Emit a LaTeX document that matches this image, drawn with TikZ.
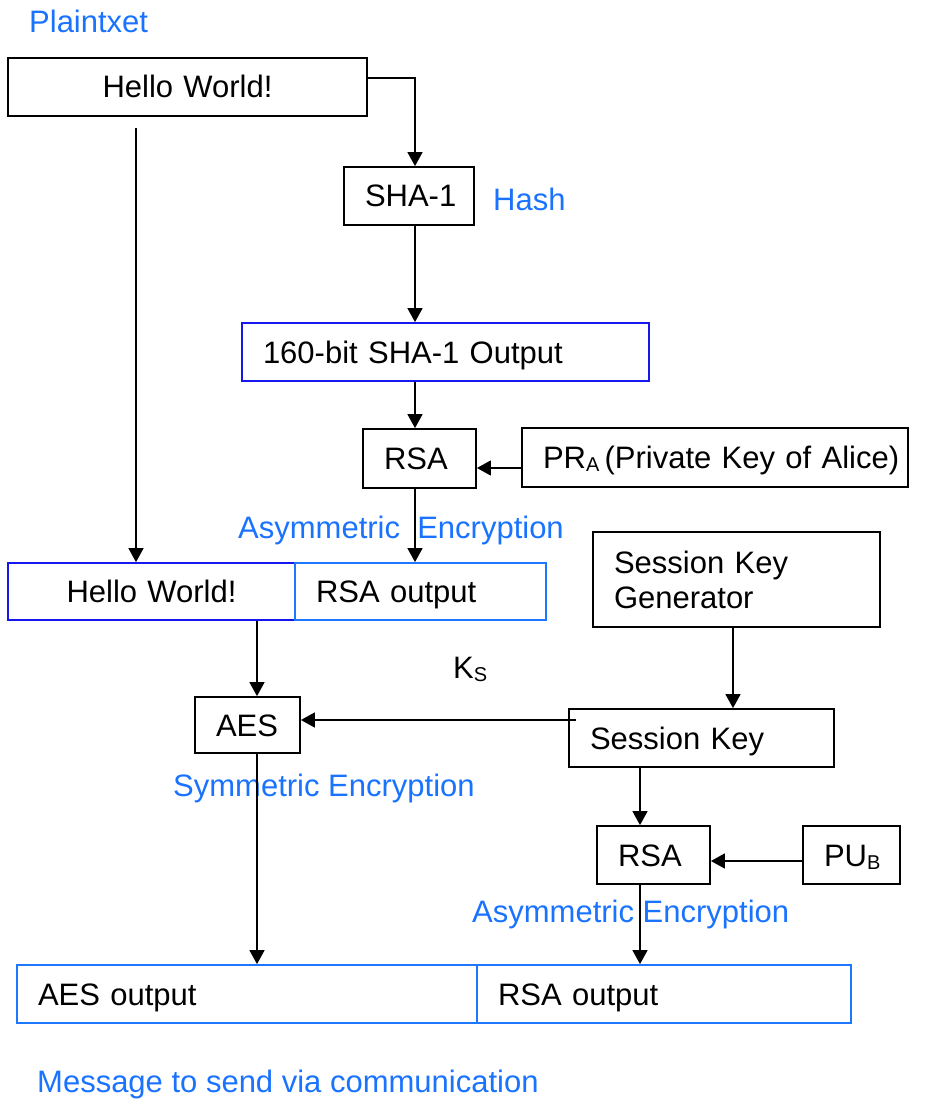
\documentclass[tikz,border=0pt]{standalone}
\usepackage{fontspec}
\setmainfont{Liberation Sans}
\usetikzlibrary{arrows.meta}
\definecolor{labelblue}{RGB}{26,115,255}
\definecolor{darkblue}{RGB}{22,22,238}
\definecolor{lightblue}{RGB}{30,120,255}
% lowered small letter for key names such as PR_A
\newcommand\lowsub[1]{\raisebox{-3pt}{\fontsize{20}{20}\selectfont #1}}

\begin{document}
\begin{tikzpicture}[x=1pt,y=-1pt,
  every node/.style={font=\fontsize{31}{34.5}\selectfont},
  box/.style={draw=black, line width=1.8pt, minimum height=58pt,
    inner xsep=21pt, inner ysep=0pt, text height=22pt, text depth=0pt},
  lbox/.style={box, text width=#1, align=left},
  cbox/.style={box, text width=#1, align=center},
  conn/.style={line width=1.5pt, -{Triangle[length=14pt,width=15pt]}},
  lbl/.style={text=labelblue, anchor=base west, inner sep=0pt}]

\fill[white] (0,0) rectangle (941,1102);
\useasboundingbox (0,0) rectangle (941,1102);

% boxes
\node[cbox=317pt] (hello) at (187.5,87) {Hello World!};
\node[lbox=88pt] (sha) at (409,196) {\mbox{SHA-1}};
\node[lbox=365pt, draw=darkblue] (dig) at (445.5,352) {\mbox{160-bit SHA-1 Output}};
\node[lbox=71pt, minimum height=59pt] (rsaA) at (419.5,458.5) {RSA};
\node[lbox=344pt, minimum height=59pt] (prA) at (715,457.5) {\mbox{PR\lowsub{A}\,(Private Key of Alice)}};
\node[cbox=245pt, minimum height=57pt, draw=darkblue] (catL) at (151.5,591.5) {Hello World!};
\node[lbox=209pt, minimum height=57pt, draw=lightblue] (catR) at (420.5,591.5) {RSA output};
\node[lbox=245pt, minimum height=95pt, text depth=34pt] (skg) at (736.5,579.5) {Session Key\\Generator};
\node[lbox=223pt] (sk) at (701.5,738) {Session Key};
\node[lbox=71pt] (rsaB) at (653.5,855) {RSA};
\node[lbox=55pt] (pub) at (851.5,855) {\mbox{PU\lowsub{B}}};
\node[lbox=63pt, minimum height=56pt] (aes) at (247.5,725) {AES};
\node[lbox=418pt, draw=lightblue] (outA) at (247,994) {AES output};
\node[lbox=332pt, draw=lightblue] (outB) at (664,994) {RSA output};

% labels
\node[lbl] (plain) at (29,33) {Plaintxet};
\node[lbl] (hash) at (493,211) {Hash};
\node[lbl] (asymA) at (238,538) {Asymmetric\ \ Encryption};
\node[lbl] (sym) at (173,796) {Symmetric Encryption};
\node[lbl] (asymB) at (472,922) {Asymmetric Encryption};
\node[lbl, text=black] (ks) at (453,678) {K\lowsub{S}};
\node[lbl] (msg) at (37,1092) {Message to send via communication};

% connector columns and starts
\coordinate (xa) at (415,0);
\coordinate (xb) at (136,0);
\coordinate (xc) at (257,0);
\coordinate (xd) at (733,0);
\coordinate (xe) at (640,0);
\coordinate (hstart) at ([yshift=9pt]hello.east);
\coordinate (vtop) at ([yshift=-11pt]hello.south -| xb);
\coordinate (pstart) at ([yshift=-10.5pt]prA.west);
\coordinate (kstart) at ([xshift=8pt,yshift=18pt]sk.west);
\coordinate (ustart) at ([yshift=-6pt]pub.west);

% connectors
\draw[conn] (hstart) -| (sha.north -| xa);
\draw[conn] (sha.south -| xa) -- (dig.north -| xa);
\draw[conn] (dig.south -| xa) -- (rsaA.north -| xa);
\draw[conn] (pstart) -- (rsaA.east |- pstart);
\draw[conn] (rsaA.south -| xa) -- (catR.north -| xa);
\draw[conn] (vtop) -- (catL.north -| xb);
\draw[conn] (catL.south -| xc) -- (aes.north -| xc);
\draw[conn] (kstart) -- (aes.east |- kstart);
\draw[conn] (skg.south -| xd) -- (sk.north -| xd);
\draw[conn] (sk.south -| xe) -- (rsaB.north -| xe);
\draw[conn] (ustart) -- (rsaB.east |- ustart);
\draw[conn] (aes.south -| xc) -- (outA.north -| xc);
\draw[conn] (rsaB.south -| xe) -- (outB.north -| xe);
\end{tikzpicture}
\end{document}
